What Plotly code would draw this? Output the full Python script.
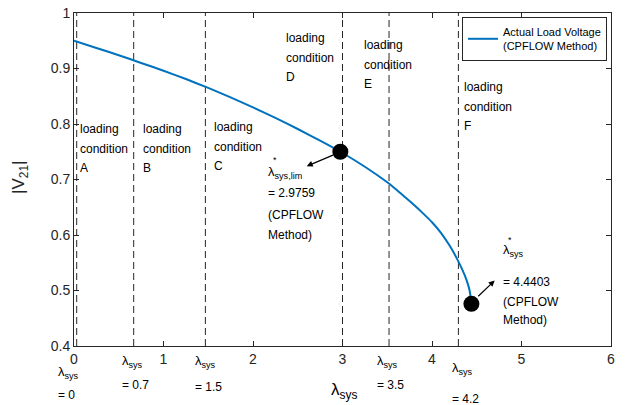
import plotly.graph_objects as go

# ---- data ----
lam = [0, 0.25, 0.5, 0.75, 1.0, 1.25, 1.5, 1.75, 2.0, 2.25, 2.5, 2.75, 2.9759,
       3.25, 3.5, 3.6, 3.7, 3.8, 3.9, 4.0, 4.1, 4.2, 4.28, 4.34, 4.39, 4.42, 4.4403]
volt = [0.950, 0.937, 0.924, 0.910, 0.896, 0.881, 0.865, 0.848, 0.830, 0.811,
        0.791, 0.770, 0.750, 0.723, 0.695, 0.682, 0.668, 0.654, 0.639, 0.623,
        0.604, 0.580, 0.557, 0.537, 0.517, 0.500, 0.476]
key_lam = [2.9759, 4.4403]
key_volt = [0.750, 0.476]
boundary_lam = [0.03, 0.667, 1.468, 3.0, 3.52, 4.295]
boundary_labels = ["= 0", "= 0.7", "= 1.5", "= 3.5", "= 4.2"]
condition_letters = ["A", "B", "C", "D", "E", "F"]
x_ticks = [0, 1, 2, 3, 4, 5, 6]
y_ticks = [0.4, 0.5, 0.6, 0.7, 0.8, 0.9, 1.0]
y_tick_text = ["0.4", "0.5", "0.6", "0.7", "0.8", "0.9", "1"]

BLUE = "#0072BD"
FONT = "Liberation Sans, Arial, sans-serif"
L, R, T, B = 74, 611, 13, 346
W, H = 625, 405

fig = go.Figure()

for xv in boundary_lam:
    fig.add_trace(go.Scatter(x=[xv, xv], y=[0.4, 1.0], mode="lines",
                             line=dict(color="#262626", width=1, dash="7px,4px"),
                             showlegend=False, hoverinfo="skip"))

fig.add_trace(go.Scatter(x=lam, y=volt, mode="lines",
                         line=dict(color=BLUE, width=2, shape="spline", smoothing=0.6),
                         name="Actual Load Voltage<br>(CPFLOW Method)"))

fig.add_trace(go.Scatter(x=key_lam, y=key_volt, mode="markers",
                         marker=dict(color="black", size=16),
                         showlegend=False, hoverinfo="skip"))

ann = []


def px2paper(px, py):
    return (px - L) / (R - L), (B - py) / (B - T)


def txt(px, py, s, size=12, anchor="left"):
    x, y = px2paper(px, py)
    ann.append(dict(x=x, y=y, xref="paper", yref="paper", text=s, showarrow=False,
                    xanchor=anchor, yanchor="middle",
                    font=dict(family=FONT, size=size, color="black")))


# loading condition labels
cond_pos = [(78, 129), (141, 129), (212, 127), (284, 38), (362, 45), (462, 87)]
for (px, py), letter in zip(cond_pos, condition_letters):
    txt(px, py, "loading")
    txt(px, py + 20, "condition")
    txt(px, py + 39, letter)

# boundary labels below axis
lam_pos = [(56, 369, 395), (120, 358, 385), (193, 358, 387), (375, 358, 385), (450, 366, 399)]
for (px, py1, py2), s in zip(lam_pos, boundary_labels):
    txt(px, py1 + 3, "λ<sub>sys</sub>", size=13)
    txt(px, py2, s, size=12)

# annotation texts for key points
txt(266, 172, "λ<sub>sys,lim</sub>", size=13)
txt(271, 160, "*", size=9)
txt(266, 193, "= 2.9759")
txt(266, 215, "(CPFLOW")
txt(266, 235, "Method)")

txt(501, 250, "λ<sub>sys</sub>", size=13)
txt(506, 240, "*", size=9)
txt(501, 282, "= 4.4403")
txt(501, 302, "(CPFLOW")
txt(501, 320, "Method)")

# axis titles
txt(344, 391, "λ<sub>sys</sub>", size=17, anchor="center")
xt, yt = px2paper(20, 178)
ann.append(dict(x=xt, y=yt, xref="paper", yref="paper", text="|V<sub>21</sub>|",
                showarrow=False, textangle=-90, xanchor="center", yanchor="middle",
                font=dict(family=FONT, size=17, color="#262626")))

# arrows (data coordinates)
ann.append(dict(x=2.600, y=0.724, ax=2.910, ay=0.745, xref="x", yref="y",
                axref="x", ayref="y", text="", showarrow=True, arrowhead=2,
                arrowsize=1, arrowwidth=1.2, arrowcolor="black"))
ann.append(dict(x=4.700, y=0.518, ax=4.500, ay=0.487, xref="x", yref="y",
                axref="x", ayref="y", text="", showarrow=True, arrowhead=2,
                arrowsize=1, arrowwidth=1.2, arrowcolor="black"))

axis_common = dict(showline=True, mirror="ticks", linecolor="#262626", linewidth=1,
                   ticks="inside", ticklen=5, tickcolor="#262626", showgrid=False,
                   zeroline=False, automargin=False,
                   tickfont=dict(family=FONT, size=14, color="#262626"))

lx, ly = px2paper(462, 17)
fig.update_layout(
    width=W, height=H,
    margin=dict(l=L, r=W - R, t=T, b=H - B, autoexpand=False),
    plot_bgcolor="white", paper_bgcolor="white",
    xaxis=dict(range=[0, 6], tickvals=x_ticks, **axis_common),
    yaxis=dict(range=[0.4, 1.0], tickvals=y_ticks, ticktext=y_tick_text, **axis_common),
    legend=dict(x=lx, y=ly, xanchor="left", yanchor="top", bgcolor="white",
                bordercolor="#262626", borderwidth=1,
                font=dict(family=FONT, size=11, color="black"),
                itemwidth=30, tracegroupgap=0),
    annotations=ann,
    showlegend=True,
)

fig.write_html("out.html", config={"displayModeBar": False},
               post_script="document.body.style.margin='0';document.body.style.padding='0';document.body.style.overflow='hidden';")
